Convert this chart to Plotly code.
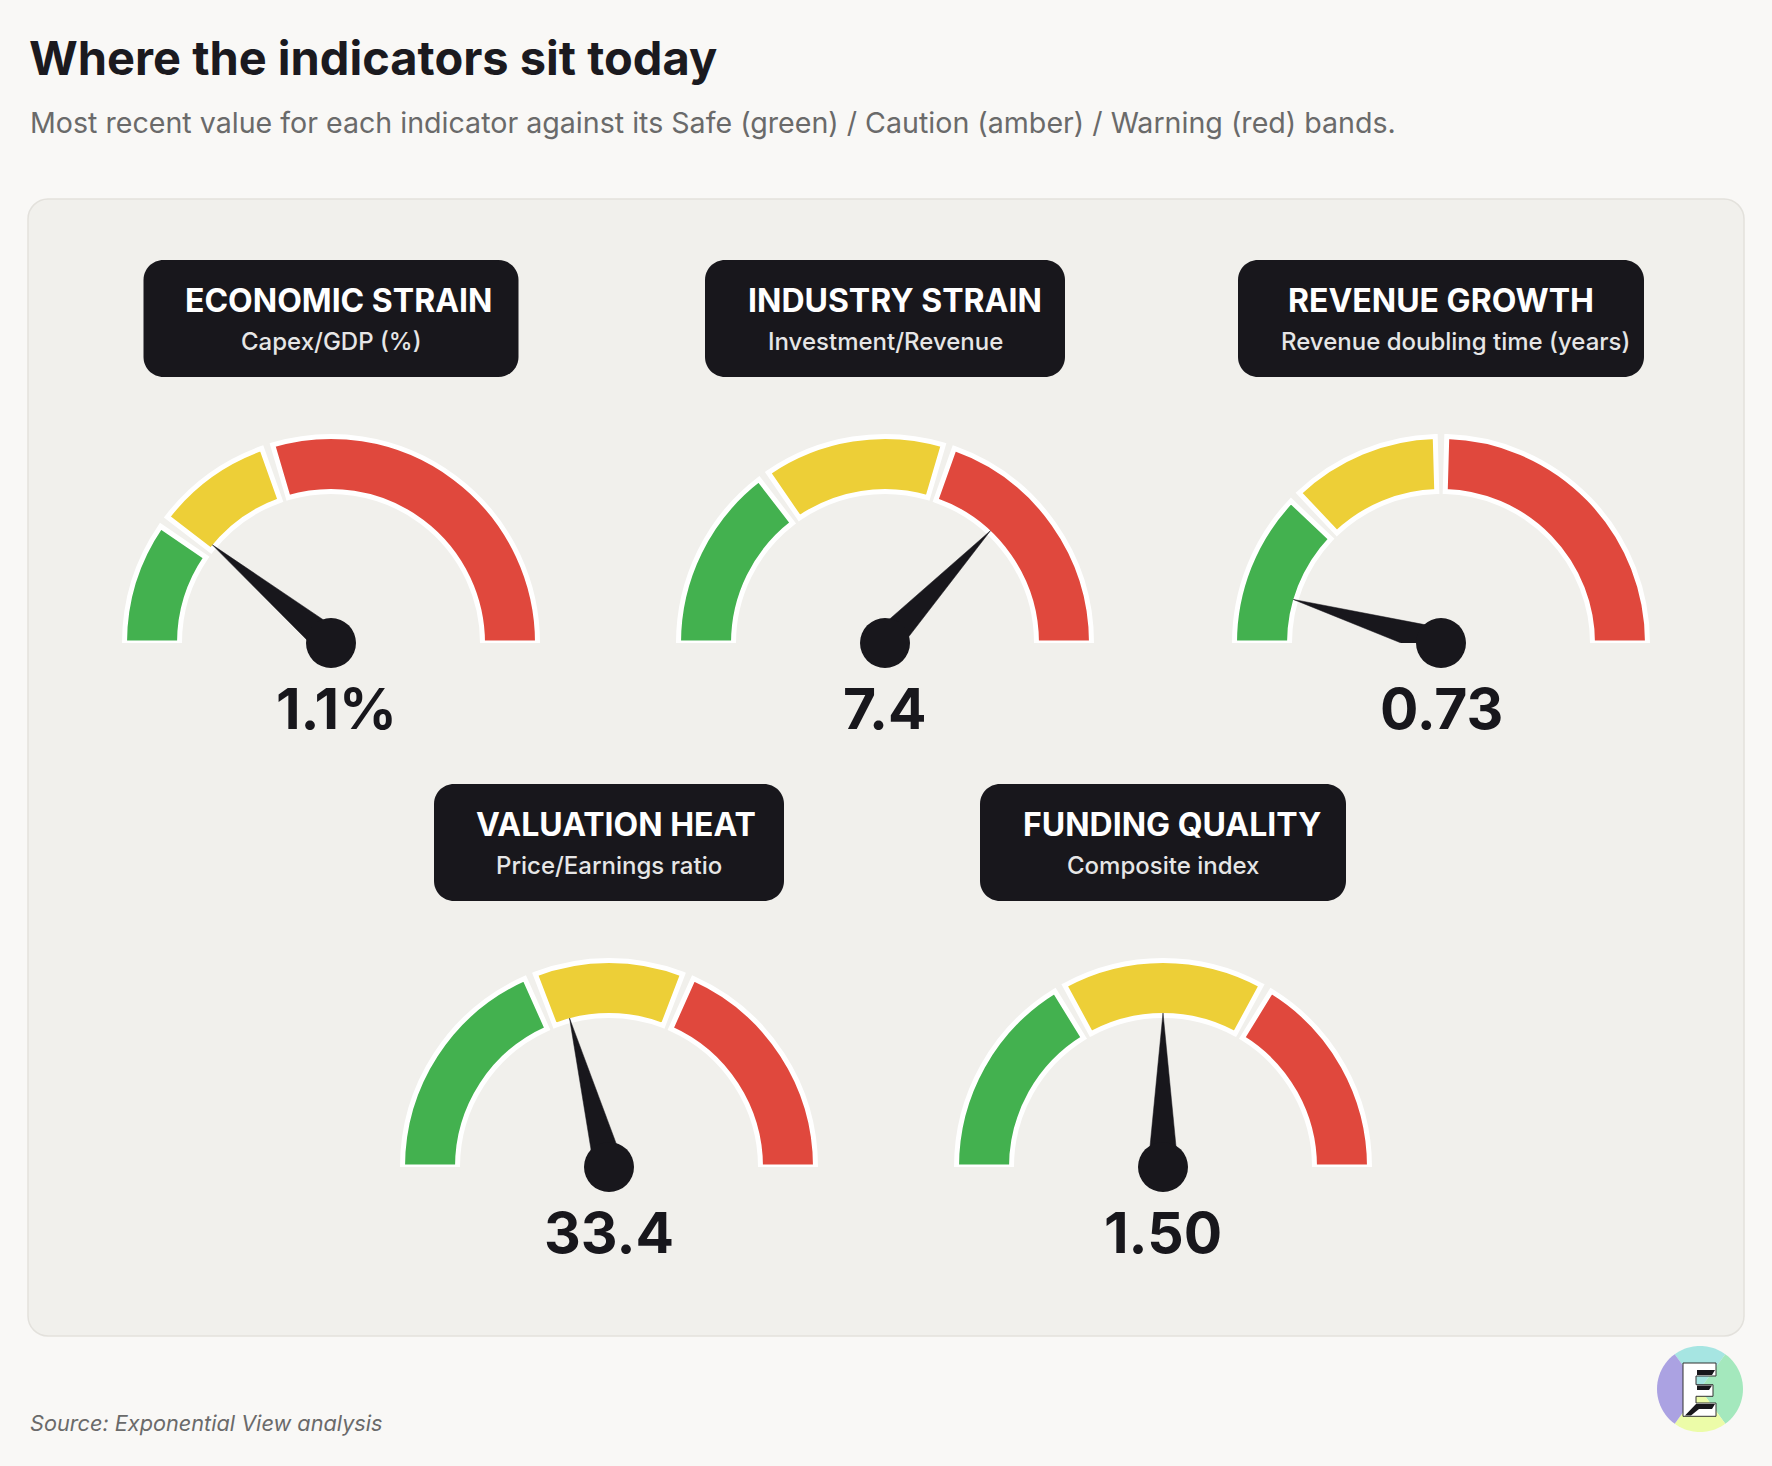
import math
import plotly.graph_objects as go

# ------------------------------------------------------------------ data
indicator_names = ["ECONOMIC STRAIN", "INDUSTRY STRAIN", "REVENUE GROWTH",
                   "VALUATION HEAT", "FUNDING QUALITY"]
indicator_metrics = ["Capex/GDP (%)", "Investment/Revenue",
                     "Revenue doubling time (years)", "Price/Earnings ratio",
                     "Composite index"]
current_values = [1.1, 7.4, 0.73, 33.4, 1.50]
value_labels = ["1.1%", "7.4", "0.73", "33.4", "1.50"]
scale_min = [0, 0, 0, 0, 0]
scale_max = [5, 10, 8, 80, 3]
safe_upper = [1, 3, 2, 30, 1]        # Safe (green) band upper bound
caution_upper = [2, 6, 4, 50, 2]     # Caution (amber) band upper bound
band_names = ["Safe", "Caution", "Warning"]

title_text = "Where the indicators sit today"
subtitle_text = ("Most recent value for each indicator against its Safe (green) / "
                 "Caution (amber) / Warning (red) bands.")
source_text = "Source: Exponential View analysis"

# ------------------------------------------------------------------ layout / style
W, H = 1772, 1466
BG = "#F9F8F6"
PANEL = "#F1F0EC"
PANEL_LINE = "#E3E1DC"
DARK = "#18171C"
BAND_COLORS = ["#43B14F", "#EDCF37", "#E0483D"]
FONT = "Inter, 'Noto Sans', sans-serif"

gauge_cx = [331, 885, 1441, 609, 1163]
gauge_cy = [643, 643, 643, 1167, 1167]
box_w = [375, 360, 406, 350, 366]
box_top = [260, 260, 260, 784, 784]
BOX_H = 117
title_dx = [7, 10, 0, 7, 9]
sub_dx = [0, 0, 14, 0, 0]
value_dx = [5, 0, 0, 0, 0]

R_IN, R_OUT = 151.5, 206.5
R_AX = 215
NEEDLE_LEN = 154
NEEDLE_HALF = 15
HUB_D = 50
GAP_DEG = 10 / 179 * 180 / math.pi

fig = go.Figure()
# invisible pixel-space cartesian axes for shapes / annotations
fig.add_trace(go.Scatter(x=[None], y=[None], showlegend=False, hoverinfo="skip"))


def ang(v, i):
    return 180.0 * (v - scale_min[i]) / (scale_max[i] - scale_min[i])


polars = {}
for i in range(len(indicator_names)):
    pid = "polar" if i == 0 else f"polar{i + 1}"
    edges = [scale_min[i], safe_upper[i], caution_upper[i], scale_max[i]]
    a = [ang(e, i) for e in edges]
    thetas, widths = [], []
    for k in range(3):
        s = a[k] + (GAP_DEG / 2 if k > 0 else 0)
        e = a[k + 1] - (GAP_DEG / 2 if k < 2 else 0)
        thetas.append((s + e) / 2)
        widths.append(e - s)
    fig.add_trace(go.Barpolar(
        r=[R_OUT - R_IN] * 3, base=[R_IN] * 3, theta=thetas, width=widths,
        marker=dict(color=BAND_COLORS, line=dict(color="white", width=5)),
        name=indicator_names[i], text=band_names,
        subplot=pid, hoverinfo="skip", showlegend=False))
    av = ang(current_values[i], i)
    fig.add_trace(go.Scatterpolar(
        r=[NEEDLE_HALF, NEEDLE_LEN, NEEDLE_HALF, NEEDLE_HALF],
        theta=[av - 90, av, av + 90, av - 90],
        mode="lines", fill="toself", fillcolor=DARK,
        line=dict(width=0.5, color=DARK),
        subplot=pid, hoverinfo="skip", showlegend=False))
    fig.add_trace(go.Scatterpolar(
        r=[0], theta=[av], mode="markers",
        marker=dict(size=HUB_D, color=DARK, line=dict(width=0)),
        cliponaxis=False, subplot=pid, hoverinfo="skip", showlegend=False))
    cx, cy = gauge_cx[i], gauge_cy[i]
    polars[pid] = dict(
        domain=dict(x=[(cx - R_AX) / W, (cx + R_AX) / W],
                    y=[1 - cy / H, 1 - (cy - R_AX) / H]),
        sector=[0, 180], hole=0, bgcolor="rgba(0,0,0,0)",
        radialaxis=dict(visible=False, range=[0, R_AX]),
        angularaxis=dict(visible=False, rotation=180, direction="clockwise"))


def rrect(x0, y0, x1, y1, r):
    k = 0.5523 * r
    return (f"M {x0 + r},{y0} L {x1 - r},{y0} "
            f"C {x1 - r + k},{y0} {x1},{y0 + r - k} {x1},{y0 + r} "
            f"L {x1},{y1 - r} "
            f"C {x1},{y1 - r + k} {x1 - r + k},{y1} {x1 - r},{y1} "
            f"L {x0 + r},{y1} "
            f"C {x0 + r - k},{y1} {x0},{y1 - r + k} {x0},{y1 - r} "
            f"L {x0},{y0 + r} "
            f"C {x0},{y0 + r - k} {x0 + r - k},{y0} {x0 + r},{y0} Z")


shapes = []
annotations = []

# panel
shapes.append(dict(type="path", path=rrect(28, 199, 1744, 1336, 20),
                   xref="x", yref="y", fillcolor=PANEL,
                   line=dict(color=PANEL_LINE, width=1.5), layer="below"))

for i in range(len(indicator_names)):
    cx = gauge_cx[i]
    x0 = cx - box_w[i] / 2
    x1 = cx + box_w[i] / 2
    y0 = box_top[i]
    shapes.append(dict(type="path", path=rrect(x0, y0, x1, y0 + BOX_H, 20),
                       xref="x", yref="y", fillcolor=DARK,
                       line=dict(width=0), layer="below"))
    annotations.append(dict(x=cx + title_dx[i], y=y0 + 40.5, xref="x", yref="y",
                            text=indicator_names[i], showarrow=False,
                            xanchor="center", yanchor="middle",
                            font=dict(family=FONT, size=32, color="white", weight=700)))
    annotations.append(dict(x=cx + sub_dx[i], y=y0 + 81.5, xref="x", yref="y",
                            text=indicator_metrics[i], showarrow=False,
                            xanchor="center", yanchor="middle",
                            font=dict(family=FONT, size=24, color="#E6E6E6", weight=500)))
    annotations.append(dict(x=cx + value_dx[i], y=gauge_cy[i] + 65, xref="x", yref="y",
                            text=value_labels[i], showarrow=False,
                            xanchor="center", yanchor="middle",
                            font=dict(family=FONT, size=57, color=DARK, weight=700)))

annotations.append(dict(x=27, y=57, xref="x", yref="y", text=title_text,
                        showarrow=False, xanchor="left", yanchor="middle",
                        font=dict(family=FONT, size=47, color="#1B1A1F", weight=700)))
annotations.append(dict(x=28, y=122, xref="x", yref="y", text=subtitle_text,
                        showarrow=False, xanchor="left", yanchor="middle",
                        font=dict(family=FONT, size=28.6, color="#6A6A6A")))
annotations.append(dict(x=28, y=1422.5, xref="x", yref="y", text=source_text,
                        showarrow=False, xanchor="left", yanchor="middle",
                        font=dict(family=FONT, size=21.7, color="#6A6A6A", style="italic")))

# logo
LX, LY, LR = 1700, 1389, 43


def wedge(a0, a1, n=24):
    pts = [(LX, LY)]
    for j in range(n + 1):
        t = math.radians(a0 + (a1 - a0) * j / n)
        pts.append((LX + LR * math.cos(t), LY + LR * math.sin(t)))
    return "M " + " L ".join(f"{x:.2f},{y:.2f}" for x, y in pts) + " Z"


for a0, a1, col in [(-126, -54, "#A6E5E2"), (-54, 54, "#A4E8BD"),
                    (54, 126, "#ECFCA8"), (126, 234, "#ABA2E2")]:
    shapes.append(dict(type="path", path=wedge(a0, a1), xref="x", yref="y",
                       fillcolor=col, line=dict(width=0), layer="above"))


def poly(pts, ox=1683, oy=1363):
    return "M " + " L ".join(f"{ox + x},{oy + y}" for x, y in pts) + " Z"


E_pts = [(0, 0), (33, 0), (33, 13), (13, 13), (13, 21.7), (30, 21.7), (30, 33.3),
         (13, 33.3), (13, 40), (33, 40), (33, 53.3), (0, 53.3)]
shapes.append(dict(type="path", path=poly(E_pts), xref="x", yref="y",
                   fillcolor="white", line=dict(color="#333", width=1), layer="above"))
for p in [[(14, 7), (32, 7), (29, 12), (14, 12)],
          [(14, 22.5), (29, 22.5), (26, 27), (14, 27)],
          [(2, 52.5), (13, 41), (32, 41), (29, 46), (16, 46), (8, 52.5)]]:
    shapes.append(dict(type="path", path=poly(p), xref="x", yref="y",
                       fillcolor=DARK, line=dict(width=0), layer="above"))

fig.update_layout(
    width=W, height=H,
    margin=dict(l=0, r=0, t=0, b=0),
    paper_bgcolor=BG, plot_bgcolor="rgba(0,0,0,0)",
    showlegend=False,
    xaxis=dict(range=[0, W], visible=False, fixedrange=True, domain=[0, 1]),
    yaxis=dict(range=[H, 0], visible=False, fixedrange=True, domain=[0, 1]),
    shapes=shapes, annotations=annotations,
    **polars,
)

fig.write_html("out.html", config={"displayModeBar": False})
